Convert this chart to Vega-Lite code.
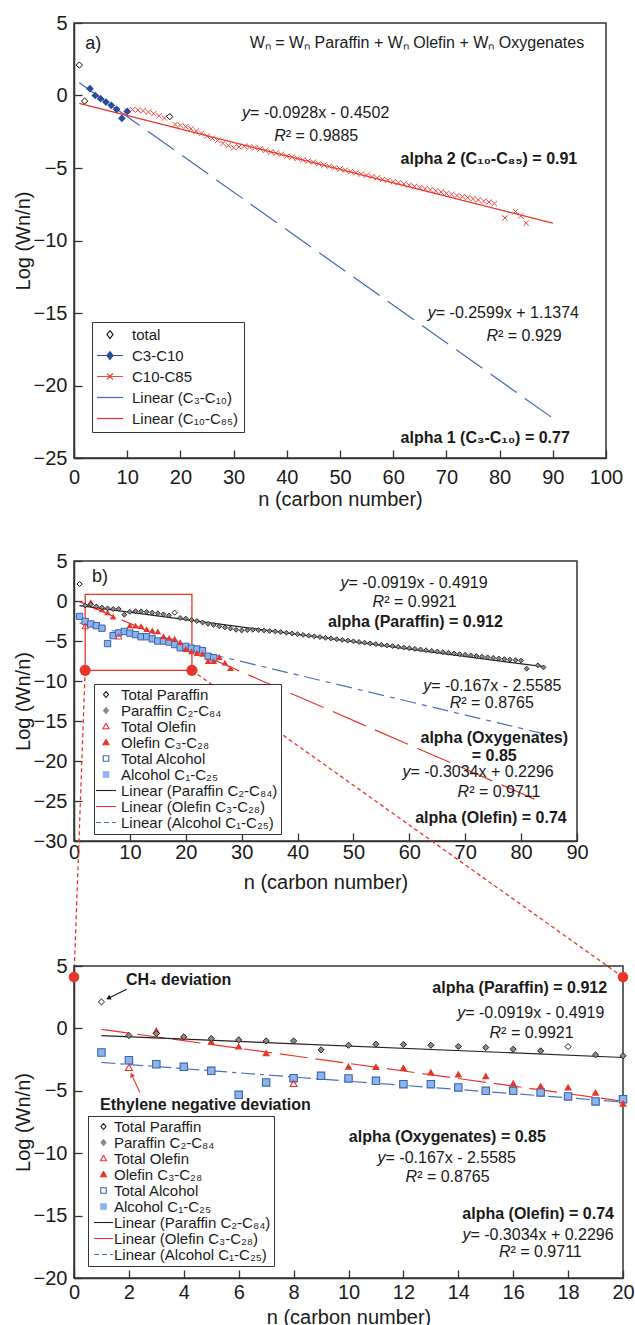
{
  "$schema": "https://vega.github.io/schema/vega-lite/v6.json",
  "autosize": {"type": "pad"},
  "padding": {"left": 12, "top": 12, "right": 0, "bottom": 0},
  "background": "white",
  "spacing": 0,
  "bounds": "flush",
  "config": {
    "font": "Liberation Sans",
    "view": {"stroke": "#333333", "strokeWidth": 1.5},
    "axis": {"grid": false, "labelFontSize": 20, "titleFontSize": 20, "titleFontWeight": "normal", "labelColor": "#1a1a1a", "titleColor": "#1a1a1a", "domainColor": "#333333", "domainWidth": 1.5, "tickColor": "#333333", "tickWidth": 1.3, "tickSize": -8, "labelFlush": false, "labelOverlap": false, "labelFont": "Liberation Sans", "titleFont": "Liberation Sans"},
    "axisX": {"labelPadding": 17, "titlePadding": 2},
    "axisY": {"labelPadding": 15, "titlePadding": 0},
    "legend": {"labelFont": "Liberation Sans"}
  },
  "resolve": {"scale": {"x": "independent", "y": "independent", "color": "independent"}, "axis": {"x": "independent", "y": "independent"}, "legend": {"color": "independent"}},
  "datasets": {
    "a_pts": [
      {"n":1,"v":2.1,"s":"total"},{"n":2,"v":-0.38,"s":"total"},{"n":18,"v":-1.46,"s":"total"},
      {"n":3,"v":0.47,"s":"C3-C10"},{"n":4,"v":0.0,"s":"C3-C10"},{"n":5,"v":-0.22,"s":"C3-C10"},{"n":6,"v":-0.45,"s":"C3-C10"},{"n":7,"v":-0.68,"s":"C3-C10"},{"n":8,"v":-0.95,"s":"C3-C10"},{"n":9,"v":-1.57,"s":"C3-C10"},{"n":10,"v":-1.1,"s":"C3-C10"},
      {"n":10,"v":-1.07,"s":"C10-C85"},{"n":11,"v":-0.97,"s":"C10-C85"},{"n":12,"v":-1.0,"s":"C10-C85"},{"n":13,"v":-1.05,"s":"C10-C85"},{"n":14,"v":-1.15,"s":"C10-C85"},{"n":15,"v":-1.25,"s":"C10-C85"},{"n":16,"v":-1.4,"s":"C10-C85"},{"n":17,"v":-1.55,"s":"C10-C85"},{"n":19,"v":-2.0,"s":"C10-C85"},{"n":20,"v":-2.05,"s":"C10-C85"},
      {"n":21,"v":-2.15,"s":"C10-C85"},{"n":22,"v":-2.3,"s":"C10-C85"},{"n":23,"v":-2.45,"s":"C10-C85"},{"n":24,"v":-2.6,"s":"C10-C85"},{"n":25,"v":-2.8,"s":"C10-C85"},{"n":26,"v":-2.95,"s":"C10-C85"},{"n":27,"v":-3.1,"s":"C10-C85"},{"n":28,"v":-3.3,"s":"C10-C85"},{"n":29,"v":-3.45,"s":"C10-C85"},{"n":30,"v":-3.6,"s":"C10-C85"},
      {"n":31,"v":-3.55,"s":"C10-C85"},{"n":32,"v":-3.5,"s":"C10-C85"},{"n":33,"v":-3.55,"s":"C10-C85"},{"n":34,"v":-3.6,"s":"C10-C85"},{"n":35,"v":-3.68,"s":"C10-C85"},{"n":36,"v":-3.78,"s":"C10-C85"},{"n":37,"v":-3.9,"s":"C10-C85"},{"n":38,"v":-3.97,"s":"C10-C85"},{"n":39,"v":-4.05,"s":"C10-C85"},{"n":40,"v":-4.18,"s":"C10-C85"},
      {"n":41,"v":-4.25,"s":"C10-C85"},{"n":42,"v":-4.33,"s":"C10-C85"},{"n":43,"v":-4.45,"s":"C10-C85"},{"n":44,"v":-4.52,"s":"C10-C85"},{"n":45,"v":-4.6,"s":"C10-C85"},{"n":46,"v":-4.7,"s":"C10-C85"},{"n":47,"v":-4.8,"s":"C10-C85"},{"n":48,"v":-4.88,"s":"C10-C85"},{"n":49,"v":-4.98,"s":"C10-C85"},{"n":50,"v":-5.07,"s":"C10-C85"},
      {"n":51,"v":-5.15,"s":"C10-C85"},{"n":52,"v":-5.25,"s":"C10-C85"},{"n":53,"v":-5.33,"s":"C10-C85"},{"n":54,"v":-5.42,"s":"C10-C85"},{"n":55,"v":-5.5,"s":"C10-C85"},{"n":56,"v":-5.6,"s":"C10-C85"},{"n":57,"v":-5.68,"s":"C10-C85"},{"n":58,"v":-5.78,"s":"C10-C85"},{"n":59,"v":-5.85,"s":"C10-C85"},{"n":60,"v":-5.95,"s":"C10-C85"},
      {"n":61,"v":-6.02,"s":"C10-C85"},{"n":62,"v":-6.1,"s":"C10-C85"},{"n":63,"v":-6.18,"s":"C10-C85"},{"n":64,"v":-6.27,"s":"C10-C85"},{"n":65,"v":-6.35,"s":"C10-C85"},{"n":66,"v":-6.43,"s":"C10-C85"},{"n":67,"v":-6.5,"s":"C10-C85"},{"n":68,"v":-6.58,"s":"C10-C85"},{"n":69,"v":-6.66,"s":"C10-C85"},{"n":70,"v":-6.75,"s":"C10-C85"},
      {"n":71,"v":-6.82,"s":"C10-C85"},{"n":72,"v":-6.9,"s":"C10-C85"},{"n":73,"v":-6.97,"s":"C10-C85"},{"n":74,"v":-7.05,"s":"C10-C85"},{"n":75,"v":-7.12,"s":"C10-C85"},{"n":76,"v":-7.2,"s":"C10-C85"},{"n":77,"v":-7.28,"s":"C10-C85"},{"n":78,"v":-7.35,"s":"C10-C85"},{"n":79,"v":-7.45,"s":"C10-C85"},{"n":81,"v":-8.45,"s":"C10-C85"},{"n":83,"v":-8.0,"s":"C10-C85"},{"n":84,"v":-8.3,"s":"C10-C85"},{"n":85,"v":-8.8,"s":"C10-C85"}
    ],
    "a_fit": [
      {"n":1,"v":0.8775,"s":"Linear (C₃-C₁₀)"},{"n":90,"v":-22.2536,"s":"Linear (C₃-C₁₀)"},
      {"n":1,"v":-0.543,"s":"Linear (C₁₀-C₈₅)"},{"n":90,"v":-8.8022,"s":"Linear (C₁₀-C₈₅)"}
    ],
    "notes_a": [
      {"k":"L18","n":2.1,"v":3.2,"t":"a)"},
      {"k":"R16","n":95.9,"v":3.28,"t":"Wₙ = Wₙ Paraffin + Wₙ Olefin + Wₙ Oxygenates"},
      {"k":"BR","n":94.6,"v":-4.72,"t":"alpha 2 (C₁₀-C₈₅) = 0.91"},
      {"k":"BR","n":93.2,"v":-23.97,"t":"alpha 1 (C₃-C₁₀) = 0.77"},
      {"k":"EQ","n":33.1,"v":-1.53,"i":"y","r":" = -0.0928x - 0.4502"},
      {"k":"EQ","n":39.8,"v":-3.14,"i":"R","r":"² = 0.9885"},
      {"k":"EQ","n":68,"v":-15.34,"i":"y","r":" = -0.2599x + 1.1374"},
      {"k":"EQ","n":79.7,"v":-16.93,"i":"R","r":"² = 0.929"}
    ],
    "par": [
      {"n":1,"v":2.12,"s":"Total Paraffin"},{"n":18,"v":-1.46,"s":"Total Paraffin"},
      {"n":2,"v":-0.57,"s":"Paraffin C₂-C₈₄"},{"n":3,"v":-0.41,"s":"Paraffin C₂-C₈₄"},{"n":4,"v":-0.68,"s":"Paraffin C₂-C₈₄"},{"n":5,"v":-0.81,"s":"Paraffin C₂-C₈₄"},{"n":6,"v":-0.92,"s":"Paraffin C₂-C₈₄"},{"n":7,"v":-1.0,"s":"Paraffin C₂-C₈₄"},{"n":8,"v":-1.0,"s":"Paraffin C₂-C₈₄"},{"n":9,"v":-1.72,"s":"Paraffin C₂-C₈₄"},{"n":10,"v":-1.35,"s":"Paraffin C₂-C₈₄"},
      {"n":11,"v":-1.27,"s":"Paraffin C₂-C₈₄"},{"n":12,"v":-1.29,"s":"Paraffin C₂-C₈₄"},{"n":13,"v":-1.35,"s":"Paraffin C₂-C₈₄"},{"n":14,"v":-1.45,"s":"Paraffin C₂-C₈₄"},{"n":15,"v":-1.53,"s":"Paraffin C₂-C₈₄"},{"n":16,"v":-1.67,"s":"Paraffin C₂-C₈₄"},{"n":17,"v":-1.8,"s":"Paraffin C₂-C₈₄"},{"n":19,"v":-2.12,"s":"Paraffin C₂-C₈₄"},{"n":20,"v":-2.2,"s":"Paraffin C₂-C₈₄"},
      {"n":21,"v":-2.38,"s":"Paraffin C₂-C₈₄"},{"n":22,"v":-2.5,"s":"Paraffin C₂-C₈₄"},{"n":23,"v":-2.68,"s":"Paraffin C₂-C₈₄"},{"n":24,"v":-2.84,"s":"Paraffin C₂-C₈₄"},{"n":25,"v":-3.0,"s":"Paraffin C₂-C₈₄"},{"n":26,"v":-3.15,"s":"Paraffin C₂-C₈₄"},{"n":27,"v":-3.3,"s":"Paraffin C₂-C₈₄"},{"n":28,"v":-3.44,"s":"Paraffin C₂-C₈₄"},{"n":29,"v":-3.6,"s":"Paraffin C₂-C₈₄"},{"n":30,"v":-3.68,"s":"Paraffin C₂-C₈₄"},
      {"n":31,"v":-3.64,"s":"Paraffin C₂-C₈₄"},{"n":32,"v":-3.6,"s":"Paraffin C₂-C₈₄"},{"n":33,"v":-3.63,"s":"Paraffin C₂-C₈₄"},{"n":34,"v":-3.68,"s":"Paraffin C₂-C₈₄"},{"n":35,"v":-3.75,"s":"Paraffin C₂-C₈₄"},{"n":36,"v":-3.8,"s":"Paraffin C₂-C₈₄"},{"n":37,"v":-3.88,"s":"Paraffin C₂-C₈₄"},{"n":38,"v":-3.97,"s":"Paraffin C₂-C₈₄"},{"n":39,"v":-4.06,"s":"Paraffin C₂-C₈₄"},{"n":40,"v":-4.15,"s":"Paraffin C₂-C₈₄"},
      {"n":41,"v":-4.24,"s":"Paraffin C₂-C₈₄"},{"n":42,"v":-4.33,"s":"Paraffin C₂-C₈₄"},{"n":43,"v":-4.42,"s":"Paraffin C₂-C₈₄"},{"n":44,"v":-4.5,"s":"Paraffin C₂-C₈₄"},{"n":45,"v":-4.6,"s":"Paraffin C₂-C₈₄"},{"n":46,"v":-4.68,"s":"Paraffin C₂-C₈₄"},{"n":47,"v":-4.78,"s":"Paraffin C₂-C₈₄"},{"n":48,"v":-4.86,"s":"Paraffin C₂-C₈₄"},{"n":49,"v":-4.95,"s":"Paraffin C₂-C₈₄"},{"n":50,"v":-5.04,"s":"Paraffin C₂-C₈₄"},
      {"n":51,"v":-5.12,"s":"Paraffin C₂-C₈₄"},{"n":52,"v":-5.21,"s":"Paraffin C₂-C₈₄"},{"n":53,"v":-5.3,"s":"Paraffin C₂-C₈₄"},{"n":54,"v":-5.38,"s":"Paraffin C₂-C₈₄"},{"n":55,"v":-5.47,"s":"Paraffin C₂-C₈₄"},{"n":56,"v":-5.56,"s":"Paraffin C₂-C₈₄"},{"n":57,"v":-5.64,"s":"Paraffin C₂-C₈₄"},{"n":58,"v":-5.72,"s":"Paraffin C₂-C₈₄"},{"n":59,"v":-5.81,"s":"Paraffin C₂-C₈₄"},{"n":60,"v":-5.9,"s":"Paraffin C₂-C₈₄"},
      {"n":61,"v":-5.98,"s":"Paraffin C₂-C₈₄"},{"n":62,"v":-6.06,"s":"Paraffin C₂-C₈₄"},{"n":63,"v":-6.15,"s":"Paraffin C₂-C₈₄"},{"n":64,"v":-6.23,"s":"Paraffin C₂-C₈₄"},{"n":65,"v":-6.31,"s":"Paraffin C₂-C₈₄"},{"n":66,"v":-6.4,"s":"Paraffin C₂-C₈₄"},{"n":67,"v":-6.48,"s":"Paraffin C₂-C₈₄"},{"n":68,"v":-6.56,"s":"Paraffin C₂-C₈₄"},{"n":69,"v":-6.64,"s":"Paraffin C₂-C₈₄"},{"n":70,"v":-6.72,"s":"Paraffin C₂-C₈₄"},
      {"n":71,"v":-6.8,"s":"Paraffin C₂-C₈₄"},{"n":72,"v":-6.88,"s":"Paraffin C₂-C₈₄"},{"n":73,"v":-6.96,"s":"Paraffin C₂-C₈₄"},{"n":74,"v":-7.04,"s":"Paraffin C₂-C₈₄"},{"n":75,"v":-7.11,"s":"Paraffin C₂-C₈₄"},{"n":76,"v":-7.19,"s":"Paraffin C₂-C₈₄"},{"n":77,"v":-7.26,"s":"Paraffin C₂-C₈₄"},{"n":78,"v":-7.33,"s":"Paraffin C₂-C₈₄"},{"n":79,"v":-7.4,"s":"Paraffin C₂-C₈₄"},{"n":80,"v":-7.45,"s":"Paraffin C₂-C₈₄"},
      {"n":81,"v":-8.46,"s":"Paraffin C₂-C₈₄"},{"n":83,"v":-8.04,"s":"Paraffin C₂-C₈₄"},{"n":84,"v":-8.3,"s":"Paraffin C₂-C₈₄"}
    ],
    "ole": [
      {"n":2,"v":-3.13,"s":"Total Olefin"},{"n":8,"v":-4.41,"s":"Total Olefin"},
      {"n":3,"v":-0.15,"s":"Olefin C₃-C₂₈"},{"n":4,"v":-0.68,"s":"Olefin C₃-C₂₈"},{"n":5,"v":-1.05,"s":"Olefin C₃-C₂₈"},{"n":6,"v":-1.43,"s":"Olefin C₃-C₂₈"},{"n":7,"v":-1.96,"s":"Olefin C₃-C₂₈"},
      {"n":10,"v":-3.05,"s":"Olefin C₃-C₂₈"},{"n":11,"v":-3.07,"s":"Olefin C₃-C₂₈"},{"n":12,"v":-3.15,"s":"Olefin C₃-C₂₈"},{"n":13,"v":-3.5,"s":"Olefin C₃-C₂₈"},{"n":14,"v":-3.67,"s":"Olefin C₃-C₂₈"},{"n":15,"v":-3.8,"s":"Olefin C₃-C₂₈"},{"n":16,"v":-4.39,"s":"Olefin C₃-C₂₈"},{"n":17,"v":-4.6,"s":"Olefin C₃-C₂₈"},{"n":18,"v":-4.71,"s":"Olefin C₃-C₂₈"},{"n":19,"v":-5.13,"s":"Olefin C₃-C₂₈"},{"n":20,"v":-6.0,"s":"Olefin C₃-C₂₈"},
      {"n":21,"v":-6.3,"s":"Olefin C₃-C₂₈"},{"n":22,"v":-6.5,"s":"Olefin C₃-C₂₈"},{"n":23,"v":-6.6,"s":"Olefin C₃-C₂₈"},{"n":24,"v":-7.5,"s":"Olefin C₃-C₂₈"},{"n":25,"v":-7.5,"s":"Olefin C₃-C₂₈"},{"n":26,"v":-7.0,"s":"Olefin C₃-C₂₈"},{"n":27,"v":-7.7,"s":"Olefin C₃-C₂₈"},{"n":28,"v":-8.4,"s":"Olefin C₃-C₂₈"}
    ],
    "alc": [
      {"n":1,"v":-1.93,"s":"Alcohol C₁-C₂₅"},{"n":2,"v":-2.55,"s":"Alcohol C₁-C₂₅"},{"n":3,"v":-2.87,"s":"Alcohol C₁-C₂₅"},{"n":4,"v":-3.08,"s":"Alcohol C₁-C₂₅"},{"n":5,"v":-3.4,"s":"Alcohol C₁-C₂₅"},{"n":6,"v":-5.32,"s":"Alcohol C₁-C₂₅"},{"n":7,"v":-4.33,"s":"Alcohol C₁-C₂₅"},{"n":8,"v":-3.99,"s":"Alcohol C₁-C₂₅"},{"n":9,"v":-3.8,"s":"Alcohol C₁-C₂₅"},{"n":10,"v":-4.01,"s":"Alcohol C₁-C₂₅"},
      {"n":11,"v":-4.2,"s":"Alcohol C₁-C₂₅"},{"n":12,"v":-4.47,"s":"Alcohol C₁-C₂₅"},{"n":13,"v":-4.47,"s":"Alcohol C₁-C₂₅"},{"n":14,"v":-4.73,"s":"Alcohol C₁-C₂₅"},{"n":15,"v":-5.0,"s":"Alcohol C₁-C₂₅"},{"n":16,"v":-5.0,"s":"Alcohol C₁-C₂₅"},{"n":17,"v":-5.13,"s":"Alcohol C₁-C₂₅"},{"n":18,"v":-5.45,"s":"Alcohol C₁-C₂₅"},{"n":19,"v":-5.85,"s":"Alcohol C₁-C₂₅"},{"n":20,"v":-5.67,"s":"Alcohol C₁-C₂₅"},
      {"n":21,"v":-5.9,"s":"Alcohol C₁-C₂₅"},{"n":22,"v":-6.0,"s":"Alcohol C₁-C₂₅"},{"n":23,"v":-6.2,"s":"Alcohol C₁-C₂₅"},{"n":24,"v":-6.9,"s":"Alcohol C₁-C₂₅"},{"n":25,"v":-7.1,"s":"Alcohol C₁-C₂₅"}
    ],
    "fit_b": [
      {"n":1,"v":-0.5838,"s":"Linear (Paraffin C₂-C₈₄)"},{"n":84,"v":-8.2115,"s":"Linear (Paraffin C₂-C₈₄)"},
      {"n":1,"v":-0.0738,"s":"Linear (Olefin C₃-C₂₈)"},{"n":83,"v":-24.9526,"s":"Linear (Olefin C₃-C₂₈)"},
      {"n":1,"v":-2.7255,"s":"Linear (Alcohol C₁-C₂₅)"},{"n":85,"v":-16.7535,"s":"Linear (Alcohol C₁-C₂₅)"}
    ],
    "fit_c": [
      {"n":1,"v":-0.5838,"s":"Linear (Paraffin C₂-C₈₄)"},{"n":20,"v":-2.3299,"s":"Linear (Paraffin C₂-C₈₄)"},
      {"n":1,"v":-0.0738,"s":"Linear (Olefin C₃-C₂₈)"},{"n":20,"v":-5.8384,"s":"Linear (Olefin C₃-C₂₈)"},
      {"n":1,"v":-2.7255,"s":"Linear (Alcohol C₁-C₂₅)"},{"n":20,"v":-5.8985,"s":"Linear (Alcohol C₁-C₂₅)"}
    ],
    "box_b": [{"n":2,"n2":21.1,"v":0.83,"v2":-8.67}],
    "dots_b": [{"n":2,"v":-8.67},{"n":21.1,"v":-8.67}],
    "conn_b": [{"n":2,"v":-8.67,"n2":0,"v2":-47.0},{"n":21.1,"v":-8.67,"n2":98.2,"v2":-47.0}],
    "dots_c": [{"n":0,"v":4.12},{"n":20,"v":4.12}],
    "arrow_ch4": [{"n":1.92,"v":3.14,"n2":1.25,"v2":2.42}],
    "arrow_eth": [{"n":2.4,"v":-5.13,"n2":2.1,"v2":-3.72}],
    "notes_b": [
      {"k":"L18","n":3.2,"v":2.37,"t":"b)"},
      {"k":"EQ","n":49.1,"v":1.63,"i":"y","r":" = -0.0919x - 0.4919"},
      {"k":"EQ","n":55.5,"v":-0.75,"i":"R","r":"² = 0.9921"},
      {"k":"BC","n":61.1,"v":-3.25,"t":"alpha (Paraffin) = 0.912"},
      {"k":"EQ","n":63.9,"v":-11.25,"i":"y","r":" = -0.167x - 2.5585"},
      {"k":"EQ","n":69.3,"v":-13.4,"i":"R","r":"² = 0.8765"},
      {"k":"BC","n":75.2,"v":-17.75,"t":"alpha (Oxygenates)"},
      {"k":"BC","n":75.2,"v":-20,"t":"= 0.85"},
      {"k":"EQ","n":60.2,"v":-22,"i":"y","r":" = -0.3034x + 0.2296"},
      {"k":"EQ","n":70.7,"v":-24.5,"i":"R","r":"² = 0.9711"},
      {"k":"BC","n":74.6,"v":-27.75,"t":"alpha (Olefin) = 0.74"}
    ],
    "notes_c": [
      {"k":"BL","n":1.89,"v":3.48,"t":"CH₄ deviation"},
      {"k":"BL","n":0.95,"v":-6.52,"t":"Ethylene negative deviation"},
      {"k":"BR","n":19.42,"v":2.87,"t":"alpha (Paraffin) = 0.912"},
      {"k":"EQ","n":14.25,"v":0.81,"i":"y","r":" = -0.0919x - 0.4919"},
      {"k":"EQ","n":15.56,"v":-0.73,"i":"R","r":"² = 0.9921"},
      {"k":"BC","n":13.6,"v":-9.13,"t":"alpha (Oxygenates) = 0.85"},
      {"k":"EQ","n":11.35,"v":-10.81,"i":"y","r":" = -0.167x - 2.5585"},
      {"k":"EQ","n":12.5,"v":-12.33,"i":"R","r":"² = 0.8765"},
      {"k":"BR","n":19.67,"v":-15.27,"t":"alpha (Olefin) = 0.74"},
      {"k":"EQ","n":14.44,"v":-16.95,"i":"y","r":" = -0.3034x + 0.2296"},
      {"k":"EQ","n":15.9,"v":-18.33,"i":"R","r":"² = 0.9711"}
    ]
  },
  "vconcat": [
    {
      "width": 532, "height": 435,
      "encoding": {
        "x": {"field": "n", "type": "quantitative", "scale": {"domain": [0, 100], "nice": false, "zero": false}, "axis": {"title": "n (carbon number)", "values": [0,10,20,30,40,50,60,70,80,90,100], "labelPadding": 17, "titlePadding": 2}},
        "y": {"field": "v", "type": "quantitative", "scale": {"domain": [-25, 5], "nice": false, "zero": false}, "axis": {"title": "Log (Wn/n)", "values": [5,0,-5,-10,-15,-20,-25]}}
      },
      "layer": [
        {"data": {"name": "a_fit"}, "transform": [{"filter": "datum.s === 'Linear (C₃-C₁₀)'"}], "mark": {"type": "line", "strokeDash": [32, 10], "strokeWidth": 1.2},
         "encoding": {"color": {"field": "s", "type": "nominal",
           "scale": {"domain": ["total","C3-C10","C10-C85","Linear (C₃-C₁₀)","Linear (C₁₀-C₈₅)"], "range": ["#111111","#2b4c98","#f0493a","#4169b5","#e8302a"]},
           "legend": {"title": null, "orient": "none", "legendX": 18, "legendY": 299, "strokeColor": "#333333", "fillColor": "white", "padding": 5, "labelFontSize": 15, "labelColor": "#1a1a1a", "labelLimit": 400, "symbolSize": 100, "symbolOffset": 5.5, "labelOffset": 14.5, "rowPadding": 5,
             "encode": {"symbols": {"update": {
               "shape": {"signal": "datum.value === 'total' ? 'M0,-0.8L0.6,0L0,0.8L-0.6,0Z' : datum.value === 'C3-C10' ? 'M-2.6,0L2.6,0M0,-0.8L0.6,0L0,0.8L-0.6,0Z' : datum.value === 'C10-C85' ? 'M-2.6,0L2.6,0M-0.6,-0.6L0.6,0.6M-0.6,0.6L0.6,-0.6' : 'M-2.6,0L2.6,0'"},
               "fill": {"signal": "datum.value === 'C3-C10' ? '#2b4c98' : 'white'"},
               "fillOpacity": {"signal": "datum.value === 'C3-C10' ? 1 : 0"},
               "stroke": {"signal": "datum.value === 'total' ? '#111111' : (datum.value === 'C3-C10' || datum.value === 'Linear (C₃-C₁₀)') ? '#3a5fae' : '#ee3b2b'"},
               "strokeWidth": {"value": 1.2}, "size": {"value": 100}, "opacity": {"value": 1}, "strokeDash": {"value": [100, 0]}
             }}}}}}},
        {"data": {"name": "a_fit"}, "transform": [{"filter": "datum.s === 'Linear (C₁₀-C₈₅)'"}], "mark": {"type": "line", "strokeWidth": 1.2},
         "encoding": {"color": {"field": "s", "type": "nominal", "scale": {"domain": ["total","C3-C10","C10-C85","Linear (C₃-C₁₀)","Linear (C₁₀-C₈₅)"], "range": ["#111111","#2b4c98","#f0493a","#4169b5","#e8302a"]}}}},
        {"data": {"name": "a_pts"}, "transform": [{"filter": "datum.s === 'C10-C85'"}], "mark": {"type": "point", "shape": "M-1,-1L1,1M-1,1L1,-1", "filled": false, "size": 30, "strokeWidth": 1, "opacity": 1},
         "encoding": {"color": {"field": "s", "type": "nominal", "scale": {"domain": ["total","C3-C10","C10-C85","Linear (C₃-C₁₀)","Linear (C₁₀-C₈₅)"], "range": ["#111111","#2b4c98","#f0493a","#4169b5","#e8302a"]}}}},
        {"data": {"name": "a_pts"}, "transform": [{"filter": "datum.s === 'C3-C10'"}], "mark": {"type": "point", "shape": "diamond", "filled": true, "size": 60, "opacity": 1},
         "encoding": {"color": {"field": "s", "type": "nominal", "scale": {"domain": ["total","C3-C10","C10-C85","Linear (C₃-C₁₀)","Linear (C₁₀-C₈₅)"], "range": ["#111111","#2b4c98","#f0493a","#4169b5","#e8302a"]}}}},
        {"data": {"name": "a_pts"}, "transform": [{"filter": "datum.s === 'total'"}], "mark": {"type": "point", "shape": "diamond", "filled": false, "size": 40, "strokeWidth": 1, "opacity": 1},
         "encoding": {"color": {"field": "s", "type": "nominal", "scale": {"domain": ["total","C3-C10","C10-C85","Linear (C₃-C₁₀)","Linear (C₁₀-C₈₅)"], "range": ["#111111","#2b4c98","#f0493a","#4169b5","#e8302a"]}}}},
        {"data": {"name": "notes_a"}, "transform": [{"filter": "datum.k === 'L18'"}], "mark": {"type": "text", "align": "left", "baseline": "alphabetic", "fontSize": 18, "color": "#1a1a1a"}, "encoding": {"text": {"field": "t"}}},
        {"data": {"name": "notes_a"}, "transform": [{"filter": "datum.k === 'R16'"}], "mark": {"type": "text", "align": "right", "baseline": "alphabetic", "fontSize": 16, "color": "#1a1a1a"}, "encoding": {"text": {"field": "t"}}},
        {"data": {"name": "notes_a"}, "transform": [{"filter": "datum.k === 'BR'"}], "mark": {"type": "text", "align": "right", "baseline": "alphabetic", "fontSize": 16, "fontWeight": "bold", "color": "#1a1a1a"}, "encoding": {"text": {"field": "t"}}},
        {"data": {"name": "notes_a"}, "transform": [{"filter": "datum.k === 'EQ'"}], "mark": {"type": "text", "align": "right", "baseline": "alphabetic", "fontSize": 16, "fontStyle": "italic", "color": "#1a1a1a"}, "encoding": {"text": {"field": "i"}}},
        {"data": {"name": "notes_a"}, "transform": [{"filter": "datum.k === 'EQ'"}], "mark": {"type": "text", "align": "left", "baseline": "alphabetic", "fontSize": 16, "color": "#1a1a1a"}, "encoding": {"text": {"field": "r"}}}
      ]
    },
    {"width": 10, "height": 103, "view": {"stroke": null}, "data": {"values": []}, "mark": {"type": "point", "opacity": 0}},
    {
      "width": 503, "height": 280,
      "encoding": {
        "x": {"field": "n", "type": "quantitative", "scale": {"domain": [0, 90], "nice": false, "zero": false}, "axis": {"title": "n (carbon number)", "values": [0,10,20,30,40,50,60,70,80,90], "labelPadding": 9, "titlePadding": 10}},
        "y": {"field": "v", "type": "quantitative", "scale": {"domain": [-30, 5], "nice": false, "zero": false}, "axis": {"title": "Log (Wn/n)", "values": [5,0,-5,-10,-15,-20,-25,-30]}}
      },
      "layer": [
        {"data": {"name": "fit_b"}, "transform": [{"filter": "datum.s === 'Linear (Alcohol C₁-C₂₅)'"}], "mark": {"type": "line", "strokeDash": [16, 6, 5, 6], "strokeWidth": 1.2},
         "encoding": {"color": {"field": "s", "type": "nominal",
           "scale": {"domain": ["Total Paraffin","Paraffin C₂-C₈₄","Total Olefin","Olefin C₃-C₂₈","Total Alcohol","Alcohol C₁-C₂₅","Linear (Paraffin C₂-C₈₄)","Linear (Olefin C₃-C₂₈)","Linear (Alcohol C₁-C₂₅)"], "range": ["#111111","#8a8a8a","#e8352a","#e8352a","#3a62b5","#8db4e8","#222222","#e8352a","#4a6fc0"]},
           "legend": {"title": null, "orient": "none", "legendX": 20, "legendY": 123, "strokeColor": "#333333", "fillColor": "white", "padding": 3, "labelFontSize": 15, "labelColor": "#1a1a1a", "labelLimit": 400, "symbolSize": 100, "symbolOffset": 1.5, "labelOffset": 7.5, "rowPadding": -2.4,
             "encode": {"symbols": {"update": {
               "shape": {"signal": "indexof(datum.value, 'Linear') === 0 ? 'M-2,0L2,0' : indexof(datum.value, 'Paraffin') >= 0 ? 'M0,-0.6L0.5,0L0,0.6L-0.5,0Z' : indexof(datum.value, 'Olefin') >= 0 ? 'M0,-0.65L0.6,0.45L-0.6,0.45Z' : 'M-0.55,-0.55L0.55,-0.55L0.55,0.55L-0.55,0.55Z'"},
               "fill": {"signal": "datum.value === 'Paraffin C₂-C₈₄' ? '#8a8a8a' : datum.value === 'Olefin C₃-C₂₈' ? '#e8352a' : datum.value === 'Alcohol C₁-C₂₅' ? '#8db4e8' : 'white'"},
               "fillOpacity": {"signal": "indexof(datum.value, 'Total') === 0 ? 0 : 1"},
               "stroke": {"signal": "indexof(datum.value, 'Paraffin') >= 0 ? '#222222' : indexof(datum.value, 'Olefin') >= 0 ? '#e8352a' : '#3a62b5'"},
               "strokeWidth": {"value": 1.1}, "size": {"value": 100}, "opacity": {"value": 1},
               "strokeDash": {"signal": "datum.value === 'Linear (Alcohol C₁-C₂₅)' ? [5, 3] : [100, 0]"}
             }}}}}}},
        {"data": {"name": "fit_b"}, "transform": [{"filter": "datum.s === 'Linear (Olefin C₃-C₂₈)'"}], "mark": {"type": "line", "strokeDash": [36, 10], "strokeWidth": 1.2},
         "encoding": {"color": {"field": "s", "type": "nominal", "scale": {"domain": ["Total Paraffin","Paraffin C₂-C₈₄","Total Olefin","Olefin C₃-C₂₈","Total Alcohol","Alcohol C₁-C₂₅","Linear (Paraffin C₂-C₈₄)","Linear (Olefin C₃-C₂₈)","Linear (Alcohol C₁-C₂₅)"], "range": ["#111111","#8a8a8a","#e8352a","#e8352a","#3a62b5","#8db4e8","#222222","#e8352a","#4a6fc0"]}}}},
        {"data": {"name": "fit_b"}, "transform": [{"filter": "datum.s === 'Linear (Paraffin C₂-C₈₄)'"}], "mark": {"type": "line", "strokeWidth": 1.2},
         "encoding": {"color": {"field": "s", "type": "nominal", "scale": {"domain": ["Total Paraffin","Paraffin C₂-C₈₄","Total Olefin","Olefin C₃-C₂₈","Total Alcohol","Alcohol C₁-C₂₅","Linear (Paraffin C₂-C₈₄)","Linear (Olefin C₃-C₂₈)","Linear (Alcohol C₁-C₂₅)"], "range": ["#111111","#8a8a8a","#e8352a","#e8352a","#3a62b5","#8db4e8","#222222","#e8352a","#4a6fc0"]}}}},
        {"data": {"name": "box_b"}, "mark": {"type": "rect", "filled": false, "stroke": "#e8352a", "strokeWidth": 1.3}, "encoding": {"x2": {"field": "n2"}, "y2": {"field": "v2"}}},
        {"data": {"name": "conn_b"}, "mark": {"type": "rule", "stroke": "#e8352a", "strokeWidth": 1.3, "strokeDash": [4, 3], "clip": false}, "encoding": {"x2": {"field": "n2"}, "y2": {"field": "v2"}}},
        {"data": {"name": "alc"}, "mark": {"type": "point", "shape": "square", "filled": true, "size": 40, "stroke": "#3a62b5", "strokeWidth": 1, "opacity": 1},
         "encoding": {"color": {"field": "s", "type": "nominal", "scale": {"domain": ["Total Paraffin","Paraffin C₂-C₈₄","Total Olefin","Olefin C₃-C₂₈","Total Alcohol","Alcohol C₁-C₂₅","Linear (Paraffin C₂-C₈₄)","Linear (Olefin C₃-C₂₈)","Linear (Alcohol C₁-C₂₅)"], "range": ["#111111","#8a8a8a","#e8352a","#e8352a","#3a62b5","#8db4e8","#222222","#e8352a","#4a6fc0"]}}}},
        {"data": {"name": "ole"}, "transform": [{"filter": "datum.s === 'Olefin C₃-C₂₈'"}], "mark": {"type": "point", "shape": "triangle-up", "filled": true, "size": 45, "opacity": 1},
         "encoding": {"color": {"field": "s", "type": "nominal", "scale": {"domain": ["Total Paraffin","Paraffin C₂-C₈₄","Total Olefin","Olefin C₃-C₂₈","Total Alcohol","Alcohol C₁-C₂₅","Linear (Paraffin C₂-C₈₄)","Linear (Olefin C₃-C₂₈)","Linear (Alcohol C₁-C₂₅)"], "range": ["#111111","#8a8a8a","#e8352a","#e8352a","#3a62b5","#8db4e8","#222222","#e8352a","#4a6fc0"]}}}},
        {"data": {"name": "ole"}, "transform": [{"filter": "datum.s === 'Total Olefin'"}], "mark": {"type": "point", "shape": "triangle-up", "filled": false, "size": 40, "strokeWidth": 1, "opacity": 1},
         "encoding": {"color": {"field": "s", "type": "nominal", "scale": {"domain": ["Total Paraffin","Paraffin C₂-C₈₄","Total Olefin","Olefin C₃-C₂₈","Total Alcohol","Alcohol C₁-C₂₅","Linear (Paraffin C₂-C₈₄)","Linear (Olefin C₃-C₂₈)","Linear (Alcohol C₁-C₂₅)"], "range": ["#111111","#8a8a8a","#e8352a","#e8352a","#3a62b5","#8db4e8","#222222","#e8352a","#4a6fc0"]}}}},
        {"data": {"name": "par"}, "transform": [{"filter": "datum.s === 'Paraffin C₂-C₈₄'"}], "mark": {"type": "point", "shape": "diamond", "filled": true, "size": 24, "stroke": "#222222", "strokeWidth": 0.9, "opacity": 1},
         "encoding": {"color": {"field": "s", "type": "nominal", "scale": {"domain": ["Total Paraffin","Paraffin C₂-C₈₄","Total Olefin","Olefin C₃-C₂₈","Total Alcohol","Alcohol C₁-C₂₅","Linear (Paraffin C₂-C₈₄)","Linear (Olefin C₃-C₂₈)","Linear (Alcohol C₁-C₂₅)"], "range": ["#111111","#8a8a8a","#e8352a","#e8352a","#3a62b5","#8db4e8","#222222","#e8352a","#4a6fc0"]}}}},
        {"data": {"name": "par"}, "transform": [{"filter": "datum.s === 'Total Paraffin'"}], "mark": {"type": "point", "shape": "diamond", "filled": false, "size": 26, "strokeWidth": 1, "opacity": 1},
         "encoding": {"color": {"field": "s", "type": "nominal", "scale": {"domain": ["Total Paraffin","Paraffin C₂-C₈₄","Total Olefin","Olefin C₃-C₂₈","Total Alcohol","Alcohol C₁-C₂₅","Linear (Paraffin C₂-C₈₄)","Linear (Olefin C₃-C₂₈)","Linear (Alcohol C₁-C₂₅)"], "range": ["#111111","#8a8a8a","#e8352a","#e8352a","#3a62b5","#8db4e8","#222222","#e8352a","#4a6fc0"]}}}},
        {"data": {"name": "dots_b"}, "mark": {"type": "point", "shape": "circle", "filled": true, "size": 125, "color": "#e8352a", "opacity": 1}},
        {"data": {"name": "notes_b"}, "transform": [{"filter": "datum.k === 'L18'"}], "mark": {"type": "text", "align": "left", "baseline": "alphabetic", "fontSize": 18, "color": "#1a1a1a"}, "encoding": {"text": {"field": "t"}}},
        {"data": {"name": "notes_b"}, "transform": [{"filter": "datum.k === 'BC'"}], "mark": {"type": "text", "align": "center", "baseline": "alphabetic", "fontSize": 16, "fontWeight": "bold", "color": "#1a1a1a"}, "encoding": {"text": {"field": "t"}}},
        {"data": {"name": "notes_b"}, "transform": [{"filter": "datum.k === 'EQ'"}], "mark": {"type": "text", "align": "right", "baseline": "alphabetic", "fontSize": 16, "fontStyle": "italic", "color": "#1a1a1a"}, "encoding": {"text": {"field": "i"}}},
        {"data": {"name": "notes_b"}, "transform": [{"filter": "datum.k === 'EQ'"}], "mark": {"type": "text", "align": "left", "baseline": "alphabetic", "fontSize": 16, "color": "#1a1a1a"}, "encoding": {"text": {"field": "r"}}}
      ]
    },
    {"width": 10, "height": 125, "view": {"stroke": null}, "data": {"values": []}, "mark": {"type": "point", "opacity": 0}},
    {
      "width": 549, "height": 312,
      "encoding": {
        "x": {"field": "n", "type": "quantitative", "scale": {"domain": [0, 20], "nice": false, "zero": false}, "axis": {"title": "n (carbon number)", "values": [0,2,4,6,8,10,12,14,16,18,20], "labelPadding": 12, "titlePadding": 5}},
        "y": {"field": "v", "type": "quantitative", "scale": {"domain": [-20, 5], "nice": false, "zero": false}, "axis": {"title": "Log (Wn/n)", "values": [5,0,-5,-10,-15,-20]}}
      },
      "layer": [
        {"data": {"name": "fit_c"}, "transform": [{"filter": "datum.s === 'Linear (Alcohol C₁-C₂₅)'"}], "mark": {"type": "line", "strokeDash": [14, 5, 4, 5], "strokeWidth": 1.2},
         "encoding": {"color": {"field": "s", "type": "nominal",
           "scale": {"domain": ["Total Paraffin","Paraffin C₂-C₈₄","Total Olefin","Olefin C₃-C₂₈","Total Alcohol","Alcohol C₁-C₂₅","Linear (Paraffin C₂-C₈₄)","Linear (Olefin C₃-C₂₈)","Linear (Alcohol C₁-C₂₅)"], "range": ["#111111","#8a8a8a","#e8352a","#e8352a","#3a62b5","#8db4e8","#222222","#e8352a","#4a6fc0"]},
           "legend": {"title": null, "orient": "none", "legendX": 14, "legendY": 150, "strokeColor": "#333333", "fillColor": "white", "padding": 3, "labelFontSize": 15, "labelColor": "#1a1a1a", "labelLimit": 400, "symbolSize": 100, "symbolOffset": 5, "labelOffset": 3, "rowPadding": -1.5,
             "encode": {"symbols": {"update": {
               "shape": {"signal": "indexof(datum.value, 'Linear') === 0 ? 'M-1.9,0L1.9,0' : indexof(datum.value, 'Paraffin') >= 0 ? 'M0,-0.6L0.5,0L0,0.6L-0.5,0Z' : indexof(datum.value, 'Olefin') >= 0 ? 'M0,-0.65L0.6,0.45L-0.6,0.45Z' : 'M-0.55,-0.55L0.55,-0.55L0.55,0.55L-0.55,0.55Z'"},
               "fill": {"signal": "datum.value === 'Paraffin C₂-C₈₄' ? '#8a8a8a' : datum.value === 'Olefin C₃-C₂₈' ? '#e8352a' : datum.value === 'Alcohol C₁-C₂₅' ? '#8db4e8' : 'white'"},
               "fillOpacity": {"signal": "indexof(datum.value, 'Total') === 0 ? 0 : 1"},
               "stroke": {"signal": "indexof(datum.value, 'Paraffin') >= 0 ? '#222222' : indexof(datum.value, 'Olefin') >= 0 ? '#e8352a' : '#3a62b5'"},
               "strokeWidth": {"value": 1.1}, "size": {"value": 100}, "opacity": {"value": 1},
               "strokeDash": {"signal": "datum.value === 'Linear (Alcohol C₁-C₂₅)' ? [5, 3] : [100, 0]"}
             }}}}}}},
        {"data": {"name": "fit_c"}, "transform": [{"filter": "datum.s === 'Linear (Olefin C₃-C₂₈)'"}], "mark": {"type": "line", "strokeDash": [28, 8], "strokeWidth": 1.2},
         "encoding": {"color": {"field": "s", "type": "nominal", "scale": {"domain": ["Total Paraffin","Paraffin C₂-C₈₄","Total Olefin","Olefin C₃-C₂₈","Total Alcohol","Alcohol C₁-C₂₅","Linear (Paraffin C₂-C₈₄)","Linear (Olefin C₃-C₂₈)","Linear (Alcohol C₁-C₂₅)"], "range": ["#111111","#8a8a8a","#e8352a","#e8352a","#3a62b5","#8db4e8","#222222","#e8352a","#4a6fc0"]}}}},
        {"data": {"name": "fit_c"}, "transform": [{"filter": "datum.s === 'Linear (Paraffin C₂-C₈₄)'"}], "mark": {"type": "line", "strokeWidth": 1.2},
         "encoding": {"color": {"field": "s", "type": "nominal", "scale": {"domain": ["Total Paraffin","Paraffin C₂-C₈₄","Total Olefin","Olefin C₃-C₂₈","Total Alcohol","Alcohol C₁-C₂₅","Linear (Paraffin C₂-C₈₄)","Linear (Olefin C₃-C₂₈)","Linear (Alcohol C₁-C₂₅)"], "range": ["#111111","#8a8a8a","#e8352a","#e8352a","#3a62b5","#8db4e8","#222222","#e8352a","#4a6fc0"]}}}},
        {"data": {"name": "alc"}, "transform": [{"filter": "datum.n <= 20"}], "mark": {"type": "point", "shape": "square", "filled": true, "size": 55, "stroke": "#3a62b5", "strokeWidth": 1.1, "opacity": 1},
         "encoding": {"color": {"field": "s", "type": "nominal", "scale": {"domain": ["Total Paraffin","Paraffin C₂-C₈₄","Total Olefin","Olefin C₃-C₂₈","Total Alcohol","Alcohol C₁-C₂₅","Linear (Paraffin C₂-C₈₄)","Linear (Olefin C₃-C₂₈)","Linear (Alcohol C₁-C₂₅)"], "range": ["#111111","#8a8a8a","#e8352a","#e8352a","#3a62b5","#8db4e8","#222222","#e8352a","#4a6fc0"]}}}},
        {"data": {"name": "ole"}, "transform": [{"filter": "datum.n <= 20 && datum.s === 'Olefin C₃-C₂₈'"}], "mark": {"type": "point", "shape": "triangle-up", "filled": true, "size": 60, "opacity": 1},
         "encoding": {"color": {"field": "s", "type": "nominal", "scale": {"domain": ["Total Paraffin","Paraffin C₂-C₈₄","Total Olefin","Olefin C₃-C₂₈","Total Alcohol","Alcohol C₁-C₂₅","Linear (Paraffin C₂-C₈₄)","Linear (Olefin C₃-C₂₈)","Linear (Alcohol C₁-C₂₅)"], "range": ["#111111","#8a8a8a","#e8352a","#e8352a","#3a62b5","#8db4e8","#222222","#e8352a","#4a6fc0"]}}}},
        {"data": {"name": "ole"}, "transform": [{"filter": "datum.n <= 20 && datum.s === 'Total Olefin'"}], "mark": {"type": "point", "shape": "triangle-up", "filled": false, "size": 50, "strokeWidth": 1.1, "opacity": 1},
         "encoding": {"color": {"field": "s", "type": "nominal", "scale": {"domain": ["Total Paraffin","Paraffin C₂-C₈₄","Total Olefin","Olefin C₃-C₂₈","Total Alcohol","Alcohol C₁-C₂₅","Linear (Paraffin C₂-C₈₄)","Linear (Olefin C₃-C₂₈)","Linear (Alcohol C₁-C₂₅)"], "range": ["#111111","#8a8a8a","#e8352a","#e8352a","#3a62b5","#8db4e8","#222222","#e8352a","#4a6fc0"]}}}},
        {"data": {"name": "par"}, "transform": [{"filter": "datum.n <= 20 && datum.s === 'Paraffin C₂-C₈₄'"}], "mark": {"type": "point", "shape": "diamond", "filled": true, "size": 38, "stroke": "#222222", "strokeWidth": 1, "opacity": 1},
         "encoding": {"color": {"field": "s", "type": "nominal", "scale": {"domain": ["Total Paraffin","Paraffin C₂-C₈₄","Total Olefin","Olefin C₃-C₂₈","Total Alcohol","Alcohol C₁-C₂₅","Linear (Paraffin C₂-C₈₄)","Linear (Olefin C₃-C₂₈)","Linear (Alcohol C₁-C₂₅)"], "range": ["#111111","#8a8a8a","#e8352a","#e8352a","#3a62b5","#8db4e8","#222222","#e8352a","#4a6fc0"]}}}},
        {"data": {"name": "par"}, "transform": [{"filter": "datum.n <= 20 && datum.s === 'Total Paraffin'"}], "mark": {"type": "point", "shape": "diamond", "filled": false, "size": 38, "strokeWidth": 1, "opacity": 1},
         "encoding": {"color": {"field": "s", "type": "nominal", "scale": {"domain": ["Total Paraffin","Paraffin C₂-C₈₄","Total Olefin","Olefin C₃-C₂₈","Total Alcohol","Alcohol C₁-C₂₅","Linear (Paraffin C₂-C₈₄)","Linear (Olefin C₃-C₂₈)","Linear (Alcohol C₁-C₂₅)"], "range": ["#111111","#8a8a8a","#e8352a","#e8352a","#3a62b5","#8db4e8","#222222","#e8352a","#4a6fc0"]}}}},
        {"data": {"name": "arrow_ch4"}, "mark": {"type": "rule", "stroke": "#111111", "strokeWidth": 1.1}, "encoding": {"x2": {"field": "n2"}, "y2": {"field": "v2"}}},
        {"data": {"name": "arrow_ch4"}, "mark": {"type": "point", "shape": "triangle-up", "filled": true, "size": 28, "angle": 244, "color": "#111111", "opacity": 1}, "encoding": {"x": {"field": "n2", "type": "quantitative"}, "y": {"field": "v2", "type": "quantitative"}}},
        {"data": {"name": "arrow_eth"}, "mark": {"type": "rule", "stroke": "#e8352a", "strokeWidth": 1.1}, "encoding": {"x2": {"field": "n2"}, "y2": {"field": "v2"}}},
        {"data": {"name": "arrow_eth"}, "mark": {"type": "point", "shape": "triangle-up", "filled": true, "size": 28, "angle": 335, "color": "#e8352a", "opacity": 1}, "encoding": {"x": {"field": "n2", "type": "quantitative"}, "y": {"field": "v2", "type": "quantitative"}}},
        {"data": {"name": "dots_c"}, "mark": {"type": "point", "shape": "circle", "filled": true, "size": 110, "color": "#e8352a", "opacity": 1, "clip": false}},
        {"data": {"name": "notes_c"}, "transform": [{"filter": "datum.k === 'BL'"}], "mark": {"type": "text", "align": "left", "baseline": "alphabetic", "fontSize": 16, "fontWeight": "bold", "color": "#1a1a1a"}, "encoding": {"text": {"field": "t"}}},
        {"data": {"name": "notes_c"}, "transform": [{"filter": "datum.k === 'BR'"}], "mark": {"type": "text", "align": "right", "baseline": "alphabetic", "fontSize": 16, "fontWeight": "bold", "color": "#1a1a1a"}, "encoding": {"text": {"field": "t"}}},
        {"data": {"name": "notes_c"}, "transform": [{"filter": "datum.k === 'BC'"}], "mark": {"type": "text", "align": "center", "baseline": "alphabetic", "fontSize": 16, "fontWeight": "bold", "color": "#1a1a1a"}, "encoding": {"text": {"field": "t"}}},
        {"data": {"name": "notes_c"}, "transform": [{"filter": "datum.k === 'EQ'"}], "mark": {"type": "text", "align": "right", "baseline": "alphabetic", "fontSize": 16, "fontStyle": "italic", "color": "#1a1a1a"}, "encoding": {"text": {"field": "i"}}},
        {"data": {"name": "notes_c"}, "transform": [{"filter": "datum.k === 'EQ'"}], "mark": {"type": "text", "align": "left", "baseline": "alphabetic", "fontSize": 16, "color": "#1a1a1a"}, "encoding": {"text": {"field": "r"}}}
      ]
    }
  ]
}
